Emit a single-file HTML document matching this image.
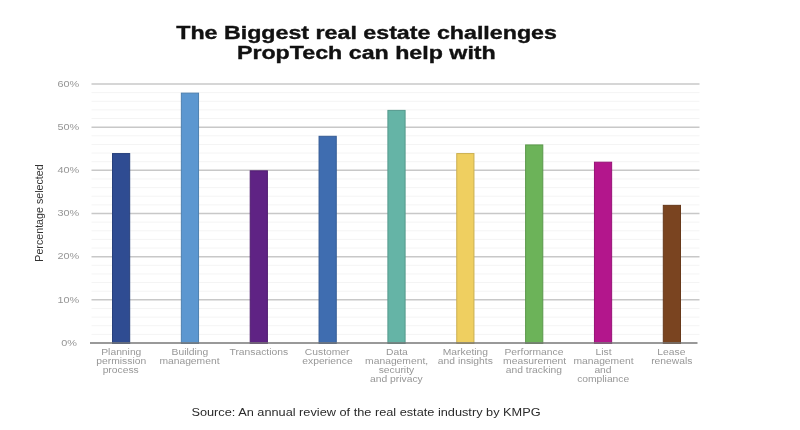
<!DOCTYPE html>
<html><head><meta charset="utf-8"><style>
html,body{margin:0;padding:0;background:#fff;width:800px;height:430px;overflow:hidden;position:relative}
body{font-family:"Liberation Sans",sans-serif}
.wrap{position:absolute;left:0;top:0;width:800px;height:430px;will-change:transform}
.t{position:absolute;white-space:nowrap;line-height:1}
.title{position:absolute;left:0;width:734px;text-align:center;font-weight:bold;font-size:18px;color:#111;line-height:1;-webkit-text-stroke:0.35px #111}
.title span{display:inline-block;transform:scaleX(1.29);transform-origin:center}
.yl{position:absolute;width:40px;left:48.8px;text-align:center;font-size:8.4px;color:#969696;line-height:1}
.yl span{display:inline-block;transform:scaleX(1.3)}
.xl{position:absolute;width:80px;text-align:center;font-size:8.4px;color:#979797;line-height:8.87px}
.xl span{display:inline-block;transform:scaleX(1.23)}
svg{position:absolute;left:0;top:0}
</style></head><body>

<div class="wrap">
<svg width="800" height="430" viewBox="0 0 800 430"><line x1="91.5" x2="699.5" y1="334.37" y2="334.37" stroke="#f4f4f4" stroke-width="1"/><line x1="91.5" x2="699.5" y1="325.73" y2="325.73" stroke="#f4f4f4" stroke-width="1"/><line x1="91.5" x2="699.5" y1="317.10" y2="317.10" stroke="#f4f4f4" stroke-width="1"/><line x1="91.5" x2="699.5" y1="308.47" y2="308.47" stroke="#f4f4f4" stroke-width="1"/><line x1="91.5" x2="699.5" y1="291.20" y2="291.20" stroke="#f4f4f4" stroke-width="1"/><line x1="91.5" x2="699.5" y1="282.57" y2="282.57" stroke="#f4f4f4" stroke-width="1"/><line x1="91.5" x2="699.5" y1="273.93" y2="273.93" stroke="#f4f4f4" stroke-width="1"/><line x1="91.5" x2="699.5" y1="265.30" y2="265.30" stroke="#f4f4f4" stroke-width="1"/><line x1="91.5" x2="699.5" y1="248.03" y2="248.03" stroke="#f4f4f4" stroke-width="1"/><line x1="91.5" x2="699.5" y1="239.40" y2="239.40" stroke="#f4f4f4" stroke-width="1"/><line x1="91.5" x2="699.5" y1="230.77" y2="230.77" stroke="#f4f4f4" stroke-width="1"/><line x1="91.5" x2="699.5" y1="222.13" y2="222.13" stroke="#f4f4f4" stroke-width="1"/><line x1="91.5" x2="699.5" y1="204.87" y2="204.87" stroke="#f4f4f4" stroke-width="1"/><line x1="91.5" x2="699.5" y1="196.23" y2="196.23" stroke="#f4f4f4" stroke-width="1"/><line x1="91.5" x2="699.5" y1="187.60" y2="187.60" stroke="#f4f4f4" stroke-width="1"/><line x1="91.5" x2="699.5" y1="178.97" y2="178.97" stroke="#f4f4f4" stroke-width="1"/><line x1="91.5" x2="699.5" y1="161.70" y2="161.70" stroke="#f4f4f4" stroke-width="1"/><line x1="91.5" x2="699.5" y1="153.07" y2="153.07" stroke="#f4f4f4" stroke-width="1"/><line x1="91.5" x2="699.5" y1="144.43" y2="144.43" stroke="#f4f4f4" stroke-width="1"/><line x1="91.5" x2="699.5" y1="135.80" y2="135.80" stroke="#f4f4f4" stroke-width="1"/><line x1="91.5" x2="699.5" y1="118.53" y2="118.53" stroke="#f4f4f4" stroke-width="1"/><line x1="91.5" x2="699.5" y1="109.90" y2="109.90" stroke="#f4f4f4" stroke-width="1"/><line x1="91.5" x2="699.5" y1="101.27" y2="101.27" stroke="#f4f4f4" stroke-width="1"/><line x1="91.5" x2="699.5" y1="92.63" y2="92.63" stroke="#f4f4f4" stroke-width="1"/><line x1="91.5" x2="699.5" y1="299.83" y2="299.83" stroke="#c8c8c8" stroke-width="1.5"/><line x1="91.5" x2="699.5" y1="256.67" y2="256.67" stroke="#c8c8c8" stroke-width="1.5"/><line x1="91.5" x2="699.5" y1="213.50" y2="213.50" stroke="#c8c8c8" stroke-width="1.5"/><line x1="91.5" x2="699.5" y1="170.33" y2="170.33" stroke="#c8c8c8" stroke-width="1.5"/><line x1="91.5" x2="699.5" y1="127.17" y2="127.17" stroke="#c8c8c8" stroke-width="1.5"/><line x1="91.5" x2="699.5" y1="84.00" y2="84.00" stroke="#c8c8c8" stroke-width="1.5"/><rect x="112.50" y="153.57" width="17.20" height="189.93" fill="#2f4c92" stroke="#27407c" stroke-width="1"/><rect x="181.35" y="93.13" width="17.20" height="250.37" fill="#5c97d0" stroke="#4e80b0" stroke-width="1"/><rect x="250.20" y="170.83" width="17.20" height="172.67" fill="#5f2384" stroke="#501d70" stroke-width="1"/><rect x="319.05" y="136.30" width="17.20" height="207.20" fill="#3f6db0" stroke="#355c95" stroke-width="1"/><rect x="387.90" y="110.40" width="17.20" height="233.10" fill="#65b4a6" stroke="#55998d" stroke-width="1"/><rect x="456.75" y="153.57" width="17.20" height="189.93" fill="#efcf60" stroke="#cbaf51" stroke-width="1"/><rect x="525.60" y="144.93" width="17.20" height="198.57" fill="#6cb359" stroke="#5b984b" stroke-width="1"/><rect x="594.45" y="162.20" width="17.20" height="181.30" fill="#b3168c" stroke="#981277" stroke-width="1"/><rect x="663.30" y="205.37" width="17.20" height="138.13" fill="#7a4420" stroke="#67391b" stroke-width="1"/><line x1="90" x2="697.5" y1="343.00" y2="343.00" stroke="#777" stroke-width="1.7"/></svg>
<div class="title" style="top:24px"><span>The Biggest real estate challenges</span></div>
<div class="title" style="top:44.3px;margin-left:-1px"><span>PropTech can help with</span></div>
<div class="yl" style="top:338.70px"><span>0%</span></div>
<div class="yl" style="top:295.53px"><span>10%</span></div>
<div class="yl" style="top:252.37px"><span>20%</span></div>
<div class="yl" style="top:209.20px"><span>30%</span></div>
<div class="yl" style="top:166.03px"><span>40%</span></div>
<div class="yl" style="top:122.87px"><span>50%</span></div>
<div class="yl" style="top:79.70px"><span>60%</span></div>
<div class="xl" style="left:81.10px;top:348px"><span>Planning</span><br><span>permission</span><br><span>process</span></div>
<div class="xl" style="left:149.95px;top:348px"><span>Building</span><br><span>management</span></div>
<div class="xl" style="left:218.80px;top:348px"><span>Transactions</span></div>
<div class="xl" style="left:287.65px;top:348px"><span>Customer</span><br><span>experience</span></div>
<div class="xl" style="left:356.50px;top:348px"><span>Data</span><br><span>management,</span><br><span>security</span><br><span>and privacy</span></div>
<div class="xl" style="left:425.35px;top:348px"><span>Marketing</span><br><span>and insights</span></div>
<div class="xl" style="left:494.20px;top:348px"><span>Performance</span><br><span>measurement</span><br><span>and tracking</span></div>
<div class="xl" style="left:563.05px;top:348px"><span>List</span><br><span>management</span><br><span>and</span><br><span>compliance</span></div>
<div class="xl" style="left:631.90px;top:348px"><span>Lease</span><br><span>renewals</span></div>
<div class="t" style="left:39.3px;top:212.5px;font-size:10.7px;color:#333;transform:translate(-50%,-50%) rotate(-90deg);">Percentage selected</div>
<div class="t" style="left:0;width:732px;text-align:center;top:407.5px;font-size:10px;color:#2a2a2a"><span style="display:inline-block;transform:scaleX(1.274)">Source: An annual review of the real estate industry by KMPG</span></div>
</div></body></html>
